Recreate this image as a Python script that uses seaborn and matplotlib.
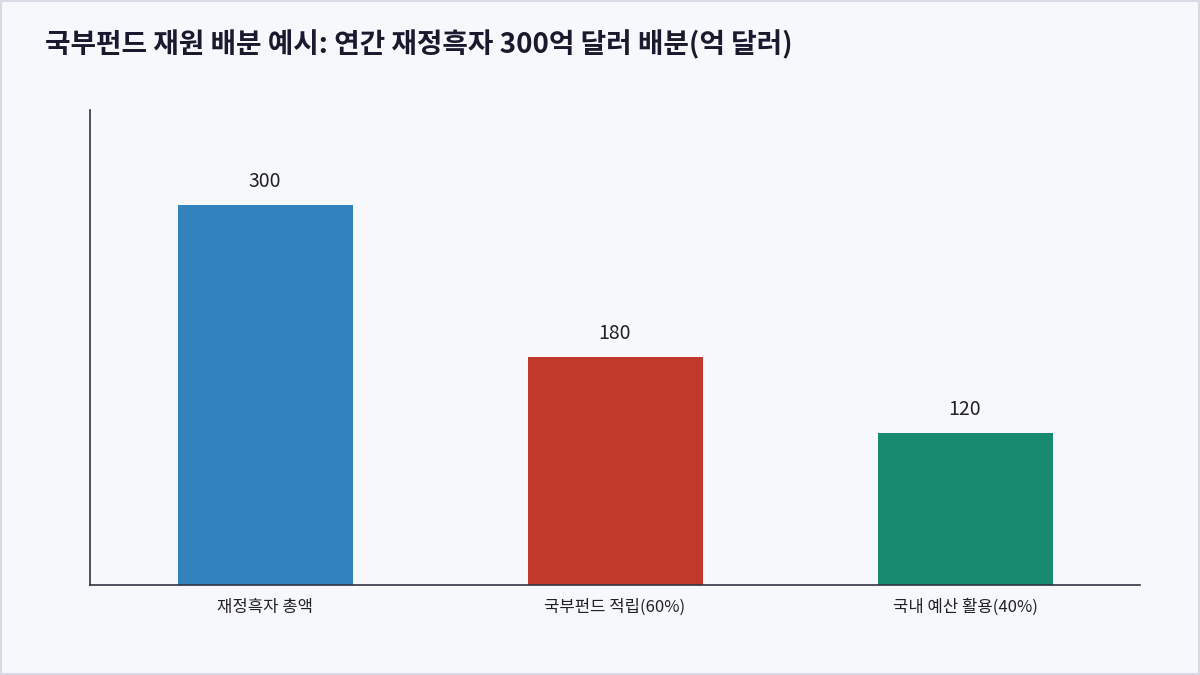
import matplotlib
matplotlib.use("Agg")
import matplotlib.pyplot as plt
import pandas as pd
import seaborn as sns

TITLE = "국부펀드 재원 배분 예시: 연간 재정흑자 300억 달러 배분(억 달러)"
CATEGORIES = ["재정흑자 총액", "국부펀드 적립(60%)", "국내 예산 활용(40%)"]
VALUES = [300, 180, 120]
COLORS = ["#3182bd", "#c0392b", "#178a70"]

BG = "#f7f8fc"

sns.set_theme(style="white")
plt.rcParams["font.family"] = ["Noto Sans CJK KR", "DejaVu Sans"]

df = pd.DataFrame({"category": CATEGORIES, "value": VALUES})

fig = plt.figure(figsize=(12, 6.75), dpi=100, facecolor=BG)
ax = fig.add_axes([90 / 1200, 90 / 675, 1050 / 1200, 475 / 675])
ax.set_facecolor(BG)

sns.barplot(data=df, x="category", y="value", hue="category", palette=COLORS,
            width=0.5, legend=False, ax=ax, saturation=1, linewidth=0)

for i, v in enumerate(VALUES):
    ax.text(i, v + 10, f"{v}", ha="center", va="bottom", fontsize=14, color="#222222")

ax.set_xlim(-0.5, 2.5)
ax.set_ylim(0, 375)
ax.set_yticks([])
ax.set_xlabel("")
ax.set_ylabel("")
ax.tick_params(axis="x", length=0, labelsize=12, colors="#222222", pad=10)
for side in ["top", "right"]:
    ax.spines[side].set_visible(False)
for side in ["left", "bottom"]:
    ax.spines[side].set_color("#333344")
    ax.spines[side].set_linewidth(1.2)

fig.text(45 / 1200, 1 - 45 / 675, TITLE, fontsize=20, fontweight="bold",
         color="#1a1a2e", va="center", ha="left")

fig.patches.append(plt.Rectangle((0.001, 0.001), 0.998, 0.998, transform=fig.transFigure,
                                 fill=False, edgecolor="#d8dbe3", linewidth=1.5))

fig.savefig("out.png", dpi=100, facecolor=BG)
